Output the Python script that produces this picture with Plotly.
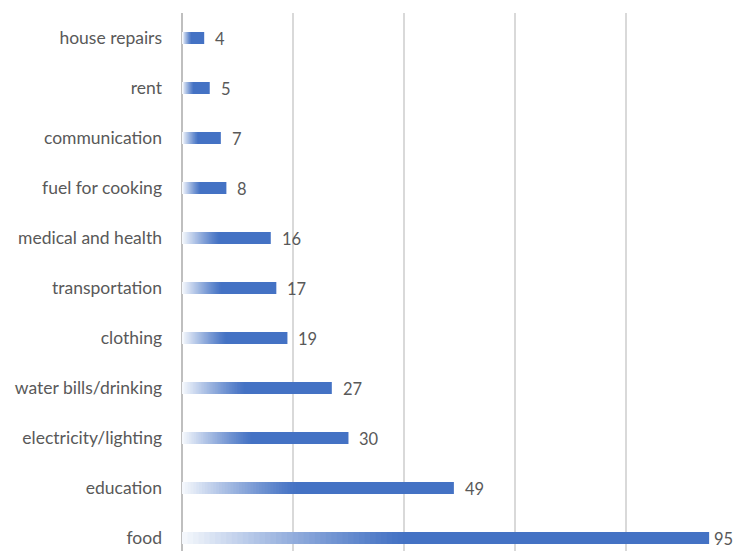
import plotly.graph_objects as go

categories = ["food", "education", "electricity/lighting", "water bills/drinking",
              "clothing", "transportation", "medical and health", "fuel for cooking",
              "communication", "rent", "house repairs"]
values = [95, 49, 30, 27, 19, 17, 16, 8, 7, 5, 4]

dark = (68, 114, 196)
light = (244, 247, 252)
N = 40
GRAD_FRAC = 0.42
FONT = "Lato"
BAR_W = 0.24

fig = go.Figure()
# full dark bar
fig.add_trace(go.Bar(y=categories, x=values, orientation="h", width=BAR_W,
                     marker=dict(color="rgb(%d,%d,%d)" % dark, line=dict(width=0)),
                     hoverinfo="skip", showlegend=False))
# gradient overlays, each shorter and lighter (drawn on top)
for i in range(1, N + 1):
    t = (i / N) ** 1.2
    frac = GRAD_FRAC * (1 - (i - 1) / N)
    c = tuple(int(dark[k] + (light[k] - dark[k]) * t) for k in range(3))
    fig.add_trace(go.Bar(y=categories, x=[v * frac for v in values], orientation="h",
                         width=BAR_W,
                         marker=dict(color="rgb(%d,%d,%d)" % c, line=dict(width=0)),
                         hoverinfo="skip", showlegend=False))

vmax = max(values)
for c, v in zip(categories, values):
    fig.add_annotation(x=v, y=c, text=str(v), showarrow=False, xanchor="left",
                       xshift=3 if v == vmax else 9, yshift=-1,
                       font=dict(family=FONT, size=16.5, color="#595959"))

fig.update_layout(
    width=733, height=551, barmode="overlay",
    margin=dict(l=182, r=0, t=13, b=0),
    paper_bgcolor="white", plot_bgcolor="white",
    xaxis=dict(range=[0, 99.3], dtick=20, showticklabels=False, showgrid=True,
               gridcolor="#d9d9d9", gridwidth=1.5, zeroline=True, zerolinecolor="#bfbfbf",
               zerolinewidth=1.5, fixedrange=True),
    yaxis=dict(type="category", categoryorder="array", categoryarray=categories,
               range=[-0.26, 10.5], showgrid=False, ticks="", ticklabelstandoff=19,
               tickfont=dict(family=FONT, size=17.5, color="#595959")),
)
fig.write_html("out.html")
